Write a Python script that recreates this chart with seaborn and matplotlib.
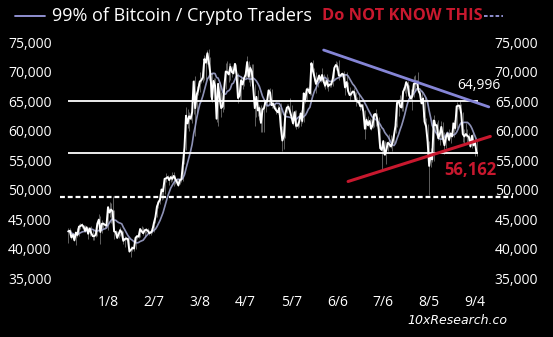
import pandas as pd
import matplotlib
matplotlib.use("Agg")
import matplotlib.pyplot as plt
from matplotlib.lines import Line2D
from matplotlib.ticker import FuncFormatter
import seaborn as sns

# Daily BTC prices in thousands of USD, 2023-12-13 .. 2024-09-05
close = [
    # Dec
    42.9, 43.0, 41.9, 42.3, 41.4, 42.7, 42.3, 43.7, 43.8, 44.0, 43.7, 43.0, 43.6, 42.5, 43.4, 42.6, 42.1, 42.1, 42.3,
    # Jan
    44.2, 44.9, 42.8, 44.2, 44.2, 44.0, 43.9, 47.0, 46.1, 46.6, 46.3, 42.9, 42.8, 41.8, 42.5, 43.1, 42.7, 41.3, 41.6, 41.7,
    41.6, 39.5, 39.8, 40.1, 40.0, 41.8, 42.1, 42.0, 43.3, 42.9, 42.6,
    # Feb
    43.1, 43.2, 43.0, 42.6, 42.7, 43.1, 44.3, 45.3, 47.1, 47.8, 48.3, 50.0, 49.7, 51.8, 51.9, 52.1, 51.6, 52.1, 51.8, 52.3,
    51.8, 51.3, 50.7, 51.6, 51.7, 54.5, 57.1, 62.5, 61.2,
    # Mar
    62.4, 62.0, 63.1, 68.3, 63.8, 66.1, 66.9, 68.3, 68.5, 69.0, 72.1, 71.5, 73.1, 71.4, 69.5, 65.3, 68.4, 67.6, 62.0, 67.9,
    65.5, 63.8, 64.1, 67.2, 70.0, 69.9, 69.5, 70.8, 69.9, 69.7, 71.3,
    # Apr
    69.7, 65.5, 65.9, 68.5, 67.8, 68.9, 69.4, 71.6, 69.1, 70.6, 70.0, 67.1, 63.8, 65.7, 63.4, 63.8, 61.3, 63.5, 63.8, 64.9,
    64.9, 66.8, 66.4, 64.3, 64.5, 63.8, 63.4, 63.1, 63.8, 60.6,
    # May
    58.3, 59.1, 62.9, 63.9, 64.0, 63.2, 62.3, 61.2, 63.1, 60.8, 60.8, 61.5, 62.9, 61.6, 66.3, 65.2, 67.0, 66.9, 66.3, 71.4,
    70.1, 69.1, 67.9, 68.5, 69.3, 68.5, 69.4, 68.3, 67.6, 68.4, 67.5,
    # Jun
    67.8, 67.8, 68.8, 70.6, 71.1, 70.8, 69.3, 69.3, 69.6, 69.5, 67.3, 68.2, 66.7, 66.0, 66.2, 66.6, 66.5, 65.2, 64.9, 64.8,
    64.1, 64.3, 63.2, 60.3, 61.8, 60.9, 61.6, 60.3, 60.9, 62.7,
    # Jul
    62.8, 62.0, 60.2, 57.0, 56.7, 58.2, 55.9, 56.7, 57.9, 57.7, 57.3, 57.9, 59.2, 60.8, 64.7, 65.0, 64.1, 63.9, 66.6, 67.1,
    68.2, 67.6, 65.9, 65.4, 65.8, 67.9, 68.0, 68.3, 66.8, 66.2, 64.6,
    # Aug
    65.4, 61.5, 60.7, 58.1, 54.0, 56.0, 55.1, 61.7, 60.9, 60.9, 58.7, 59.4, 60.6, 58.7, 57.5, 58.9, 59.5, 58.4, 59.5, 59.0,
    61.2, 60.4, 64.1, 64.2, 64.2, 62.8, 59.4, 59.0, 59.4, 59.1, 58.9,
    # Sep
    57.3, 59.1, 57.5, 58.0, 56.2,
]
high = [
    43.4, 43.4, 43.1, 42.7, 42.4, 42.8, 43.4, 44.2, 44.3, 44.4, 44.0, 43.9, 43.7, 43.6, 43.7, 43.8, 43.1, 42.6, 42.9,
    44.2, 45.9, 45.5, 44.8, 44.5, 44.2, 44.5, 47.2, 47.9, 47.7, 48.9, 46.5, 43.2, 43.0, 43.3, 43.6, 43.2, 42.9, 42.2, 41.9,
    41.9, 41.7, 40.5, 40.5, 40.3, 42.2, 42.2, 42.8, 43.3, 43.8, 43.7,
    43.3, 43.5, 43.4, 43.1, 43.5, 43.4, 44.5, 45.6, 48.1, 48.2, 48.5, 50.3, 50.3, 52.0, 52.8, 52.5, 52.2, 52.4, 52.9, 52.9,
    52.4, 52.0, 51.6, 51.7, 52.0, 54.9, 57.5, 63.9, 63.7,
    63.2, 62.4, 63.2, 68.5, 69.2, 67.6, 68.0, 69.9, 68.8, 69.9, 72.8, 72.9, 73.6, 73.8, 72.4, 70.0, 68.9, 68.9, 68.1, 68.0,
    68.2, 66.6, 65.9, 67.5, 71.5, 71.7, 71.5, 71.5, 70.9, 70.3, 71.4,
    71.3, 69.7, 66.9, 69.3, 68.7, 69.6, 70.3, 72.7, 71.7, 71.1, 71.3, 71.2, 67.9, 65.8, 66.8, 64.4, 64.4, 64.0, 65.4, 65.4,
    65.6, 67.1, 67.2, 67.0, 65.2, 64.7, 63.9, 64.3, 64.1, 64.6,
    60.8, 59.6, 63.3, 64.5, 64.5, 65.5, 64.4, 62.9, 63.4, 63.4, 61.4, 61.8, 63.4, 63.1, 66.4, 66.7, 67.4, 67.4, 67.0, 71.5,
    71.9, 70.6, 70.0, 69.2, 69.5, 69.5, 70.6, 69.5, 68.8, 69.5, 69.0,
    68.0, 68.4, 70.1, 71.0, 71.7, 71.6, 71.9, 69.5, 69.9, 70.1, 69.5, 69.9, 68.3, 67.3, 66.4, 66.9, 67.2, 66.6, 65.7, 66.4,
    65.0, 64.5, 64.5, 63.4, 62.3, 62.4, 62.2, 62.0, 61.2, 63.0,
    63.7, 63.0, 62.3, 60.4, 57.9, 58.4, 58.2, 58.1, 58.3, 59.4, 59.3, 58.5, 59.8, 61.3, 64.8, 65.3, 66.1, 65.0, 67.4, 67.6,
    68.3, 68.4, 67.7, 67.1, 66.1, 69.3, 69.4, 68.5, 70.0, 66.9, 66.8,
    65.6, 65.6, 62.1, 61.1, 58.3, 57.0, 57.7, 62.7, 61.8, 61.4, 61.8, 60.7, 61.6, 61.5, 59.8, 59.8, 59.6, 60.2, 59.6, 61.4,
    61.8, 61.4, 64.9, 64.5, 65.0, 64.5, 63.2, 60.2, 61.2, 60.2, 59.5,
    58.9, 59.4, 59.8, 58.5, 58.3,
]
low = [
    41.0, 42.7, 41.6, 41.7, 41.3, 40.6, 41.9, 42.2, 43.3, 43.4, 43.5, 42.8, 42.8, 41.6, 42.1, 42.4, 41.4, 41.5, 41.9,
    42.2, 44.2, 40.8, 42.6, 43.5, 43.4, 43.7, 43.2, 45.3, 44.4, 45.6, 41.6, 42.4, 41.7, 41.7, 42.1, 42.2, 40.7, 40.3, 41.4,
    41.5, 39.4, 38.6, 39.5, 39.6, 39.9, 41.6, 41.7, 41.9, 42.7, 42.3,
    41.9, 42.6, 42.9, 42.3, 42.3, 42.6, 42.8, 44.3, 45.3, 46.9, 47.6, 48.2, 48.4, 49.3, 51.3, 51.6, 50.7, 51.3, 51.4, 50.6,
    50.9, 50.9, 50.6, 50.9, 51.3, 51.4, 54.4, 56.7, 60.4,
    59.9, 61.7, 61.3, 62.8, 59.0, 62.9, 66.1, 66.6, 68.0, 68.2, 68.6, 68.7, 71.2, 68.6, 65.6, 64.8, 65.0, 66.5, 61.5, 60.8,
    64.6, 62.3, 63.1, 63.6, 67.0, 69.6, 68.3, 68.6, 69.1, 69.6, 69.7,
    68.2, 64.6, 65.1, 65.1, 67.1, 67.5, 68.9, 69.3, 68.2, 67.6, 69.6, 65.2, 60.7, 62.3, 62.4, 61.7, 59.8, 59.7, 59.7, 63.2,
    64.2, 64.5, 65.8, 63.8, 63.8, 63.4, 62.8, 62.8, 62.8, 59.8,
    56.6, 56.9, 58.8, 62.9, 63.6, 63.1, 62.3, 60.9, 60.6, 60.2, 60.5, 60.6, 60.8, 61.2, 61.4, 64.6, 65.1, 66.6, 66.1, 66.1,
    69.2, 68.4, 66.3, 67.3, 68.5, 68.3, 68.4, 67.4, 67.1, 67.2, 66.7,
    67.4, 67.4, 67.6, 68.6, 70.3, 70.2, 68.5, 69.2, 69.1, 69.2, 66.1, 66.9, 66.3, 65.1, 65.9, 66.0, 65.1, 64.2, 64.7, 64.4,
    63.4, 63.9, 63.2, 58.5, 60.3, 60.7, 60.6, 60.1, 60.4, 60.6,
    60.8, 61.9, 59.5, 56.8, 53.5, 56.0, 55.8, 54.3, 56.6, 57.2, 57.1, 56.6, 57.8, 59.5, 60.6, 62.5, 63.9, 63.3, 63.3, 66.3,
    65.8, 66.7, 65.5, 65.1, 63.5, 65.7, 66.7, 67.1, 66.6, 65.4, 64.5,
    62.3, 61.1, 59.8, 57.2, 49.1, 53.8, 54.6, 54.8, 60.0, 60.3, 58.4, 57.6, 58.5, 58.5, 56.1, 57.1, 58.8, 58.3, 57.9, 59.0,
    58.9, 60.1, 60.4, 63.6, 63.8, 62.5, 58.1, 57.8, 58.9, 57.9, 58.8,
    57.2, 57.0, 57.4, 55.6, 55.7,
]

y_ticks = [35000, 40000, 45000, 50000, 55000, 60000, 65000, 70000, 75000]
x_tick_dates = ["2024-01-08", "2024-02-07", "2024-03-08", "2024-04-07", "2024-05-07",
                "2024-06-06", "2024-07-06", "2024-08-05", "2024-09-04"]
x_tick_labels = ["1/8", "2/7", "3/8", "4/7", "5/7", "6/6", "7/6", "8/5", "9/4"]

resistance = 65000
support = 56162
old_level = 48800
upper_trend_dates = ["2024-05-28", "2024-09-13"]
upper_trend_vals = [73640, 64000]
lower_trend_dates = ["2024-06-13", "2024-09-14"]
lower_trend_vals = [51360, 59000]

df = pd.DataFrame({
    "date": pd.date_range("2023-12-13", periods=len(close), freq="D"),
    "close": [c * 1000 for c in close],
    "high": [h * 1000 for h in high],
    "low": [l * 1000 for l in low],
})
df["ma"] = df["close"].rolling(10, min_periods=1).mean()

sns.set_style("dark", {"axes.facecolor": "black", "figure.facecolor": "black"})
plt.rcParams["font.family"] = ["Open Sans", "DejaVu Sans"]

fig = plt.figure(figsize=(5.53, 3.37), dpi=100)
ax = fig.add_axes([60 / 553, 52 / 337, 432 / 553, 255 / 337])
ax.set_facecolor("black")

# candle wicks
ax.vlines(df["date"], df["low"], df["high"], color="#c8c8c8", lw=0.6, alpha=0.55)
sns.lineplot(data=df, x="date", y="ma", ax=ax, color="#a7acd6", lw=1.2, alpha=0.85)
sns.lineplot(data=df, x="date", y="close", ax=ax, color="white", lw=1.4)

first, last = df["date"].iloc[0], df["date"].iloc[-1] + pd.Timedelta(days=1)
ax.hlines([resistance, support], first, last, color="white", lw=1.3)
ax.axhline(old_level, xmin=0, xmax=(513 - 60) / 432, color="white", lw=1.6,
           ls=(0, (2.2, 1.3)), clip_on=False)

ax.plot(pd.to_datetime(upper_trend_dates), upper_trend_vals, color="#8585d6", lw=2.0)
ax.plot(pd.to_datetime(lower_trend_dates), lower_trend_vals, color="#c8182e", lw=2.2)

ax.text(pd.Timestamp("2024-09-06 16:00"), 67700, "64,996", color="white",
        fontsize=10, ha="center", va="center")
ax.text(pd.Timestamp("2024-09-01"), 53250, "56,162", color="#c8182e",
        fontsize=12, fontweight="bold", ha="center", va="center")

x0 = pd.Timestamp("2024-01-08")
ax.set_xlim(x0 - pd.Timedelta(days=31.4), x0 + pd.Timedelta(days=251.1))
ax.set_ylim(33814, 77034)
ax.set_xticks(pd.to_datetime(x_tick_dates))
ax.set_xticklabels(x_tick_labels)
ax.set_yticks(y_ticks)
fmt = FuncFormatter(lambda v, p: f"{int(v):,}")
ax.yaxis.set_major_formatter(fmt)
ax.tick_params(colors="white", labelsize=10, length=0)
ax.tick_params(axis="y", pad=6)
ax.tick_params(axis="x", pad=7)
ax.set_xlabel("")
ax.set_ylabel("")
ax.grid(False)
for s in ax.spines.values():
    s.set_visible(False)

ax2 = ax.twinx()
ax2.set_ylim(ax.get_ylim())
ax2.set_yticks(y_ticks)
ax2.yaxis.set_major_formatter(fmt)
ax2.tick_params(colors="white", labelsize=10, length=0, pad=2)
ax2.grid(False)
for s in ax2.spines.values():
    s.set_visible(False)

# title with legend-like strokes
fig.add_artist(Line2D([15 / 553, 45 / 553], [1 - 16 / 337] * 2, color="#9b9be0", lw=1.3))
fig.add_artist(Line2D([484 / 553, 503 / 553], [1 - 16 / 337] * 2, color="#9b9be0", lw=1.3,
                      ls=(0, (2, 1.2))))
fig.text(52 / 553, 1 - 16 / 337, "99% of Bitcoin / Crypto Traders", color="white",
         fontsize=13, ha="left", va="center")
fig.text(322 / 553, 1 - 16 / 337, "Do NOT KNOW THIS", color="#c8182e",
         fontsize=11.8, fontweight="bold", ha="left", va="center")

fig.text(457 / 553, 1 - 320 / 337, "10xResearch.co", color="white", fontsize=9,
         style="italic", family=["DejaVu Sans"], ha="center", va="center")

fig.savefig("out.png", dpi=100, facecolor="black")
